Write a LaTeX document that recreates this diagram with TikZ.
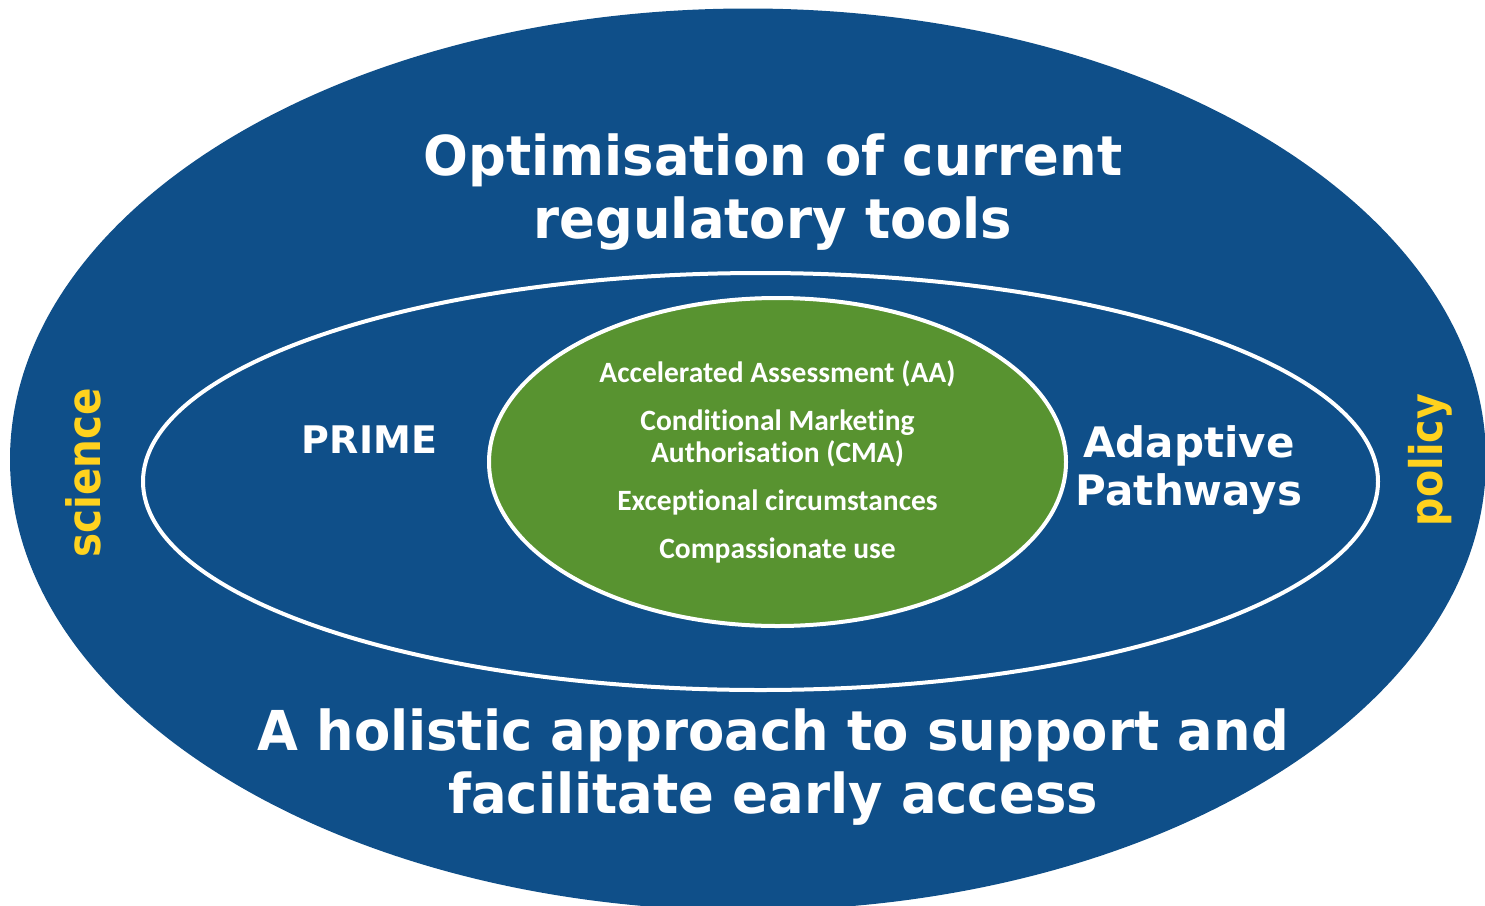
\documentclass[tikz,border=0pt]{standalone}
\usepackage{fontspec}
\setmainfont{DejaVu Sans}
\newfontfamily\headfont[FakeStretch=0.96]{DejaVu Sans}
\newfontfamily\sidefont[FakeStretch=0.88]{DejaVu Sans}
\newfontfamily\calfont[Ligatures=NoCommon]{Carlito}
\usetikzlibrary{shapes.geometric}
\definecolor{emablue}{RGB}{15,79,137}
\definecolor{emagreen}{RGB}{88,147,48}
\definecolor{emayellow}{RGB}{255,210,30}

\begin{document}
\begin{tikzpicture}[x=1pt, y=-1pt,
  ring/.style = {ellipse, inner sep=0pt, outer sep=0pt},
  head/.style = {text=white, align=center, font=\headfont\bfseries\fontsize{55}{63}\selectfont},
  tag/.style  = {text=white, align=center, font=\bfseries\fontsize{42}{48}\selectfont},
  side/.style = {text=emayellow, rotate=90, anchor=base, font=\sidefont\bfseries\fontsize{46}{50}\selectfont}]
\useasboundingbox (0,0) rectangle (1485,905);
\node[ring, fill=emablue, minimum width=1476pt, minimum height=902pt]                 (outer)  at (748,459.5) {};
\node[ring, draw=white, line width=4pt, minimum width=1235pt, minimum height=417pt]   (middle) at (760.5,481.5) {};
\node[ring, draw=white, line width=4pt, fill=emagreen, minimum width=577pt, minimum height=328pt,
      text=white, align=center, font=\calfont\bfseries\fontsize{29.5}{32}\selectfont] (core)   at (777.5,462)
      {Accelerated Assessment (AA)\\[16pt] Conditional Marketing\\ Authorisation (CMA)\\[16pt]
       Exceptional circumstances\\[16pt] Compassionate use};

\node[head]                                            (optim)    at (773,192)   {Optimisation of current\\ regulatory tools};
\node[head]                                            (holistic) at (773,767)   {A holistic approach to support and\\ facilitate early access};
\node[tag, anchor=base, font=\bfseries\fontsize{38}{44}\selectfont] (prime) at (369.5,453) {PRIME};
\node[tag]                                             (adaptive) at (1189,470)  {Adaptive\\ Pathways};
\node[side]                                            (science)  at (100,473)   {science};
\node[side, font=\sidefont\bfseries\fontsize{45}{50}\selectfont] (policy) at (1442,460) {policy};
\end{tikzpicture}
\end{document}
